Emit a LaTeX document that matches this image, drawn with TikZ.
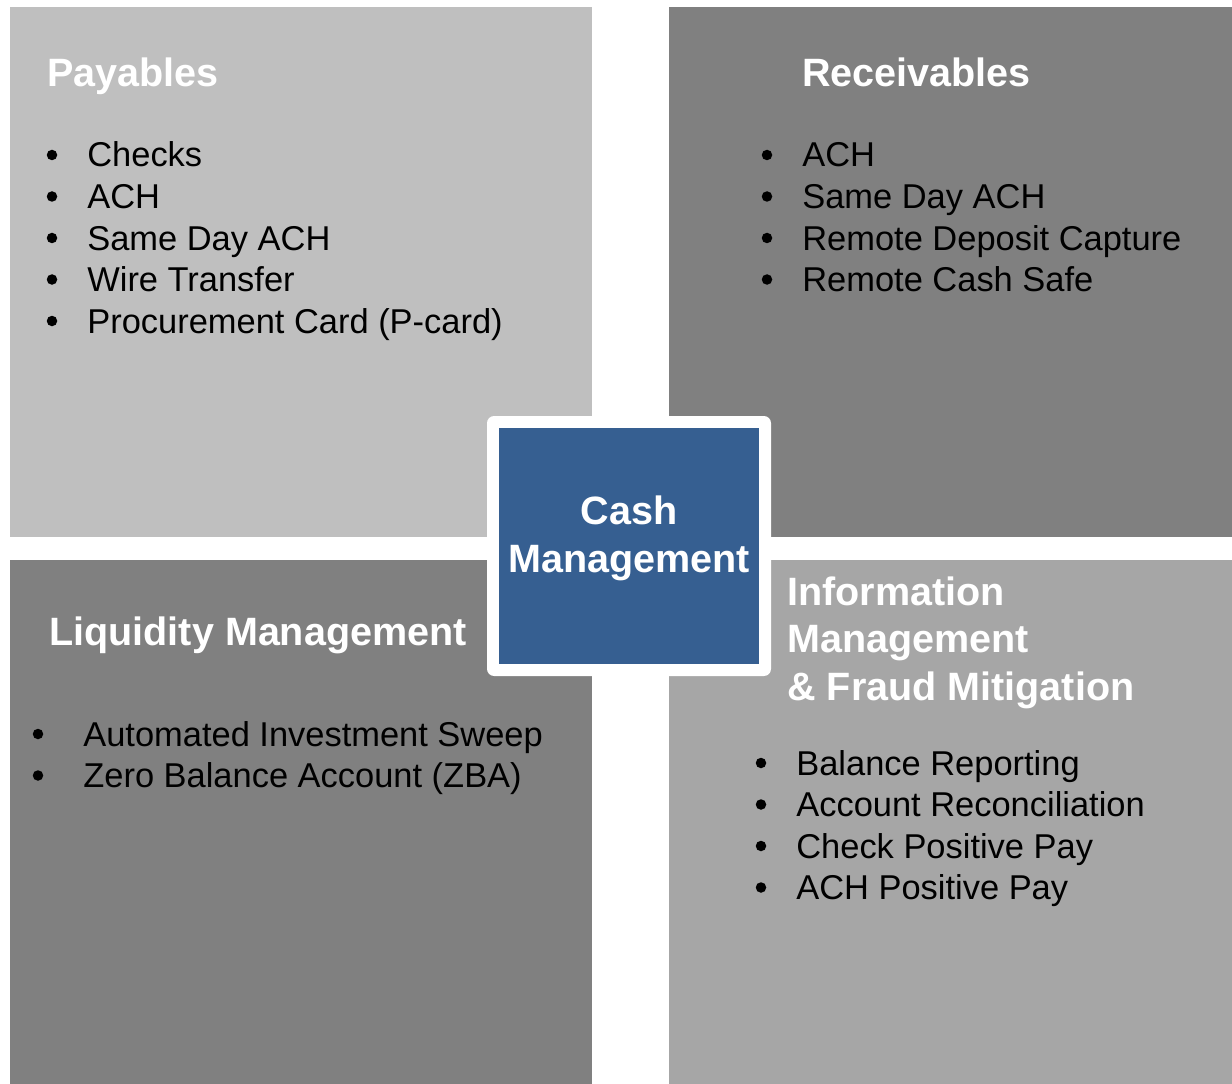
\documentclass[tikz,border=0pt]{standalone}
\usepackage{fontspec}
\setmainfont{Liberation Sans}
\usetikzlibrary{positioning}

\definecolor{paylight}{HTML}{BFBFBF}
\definecolor{darkgray}{HTML}{808080}
\definecolor{infogray}{HTML}{A6A6A6}
\definecolor{cashblue}{HTML}{365F91}

\tikzset{
  heading/.style={text=white, inner sep=0pt, anchor=base west,
    font=\fontsize{22.5}{27.2}\selectfont\bfseries},
  entry/.style={inner sep=0pt, anchor=base west,
    font=\fontsize{19.6}{23.5}\selectfont},
  dot/.style={circle, fill=black, inner sep=0pt, minimum size=2.1mm},
  cashlabel/.style={text=white, inner sep=0pt, align=center,
    font=\fontsize{22.5}{27.2}\selectfont\bfseries}
}

\begin{document}
\begin{tikzpicture}[x=0.2mm, y=-0.2mm]
  \useasboundingbox (0,0) rectangle (1232,1084);

  % four quadrants
  \fill[paylight] (10,7) rectangle (592,537);
  \fill[darkgray] (669,7) rectangle (1232,537);
  \fill[darkgray] (10,560) rectangle (592,1084);
  \fill[infogray] (669,560) rectangle (1232,1084);

  % headings
  \node[heading] (pay) at (47,87) {Payables};
  \node[heading] (rec) at (802,87) {Receivables};
  \node[heading] (liq) at (49,645) {Liquidity Management};
  \node[heading, anchor=north west, align=left] (info) at (787,576)
    {Information\\Management\\\& Fraud Mitigation};

  % bullet lists
  \foreach \txt [count=\i] in {Checks, ACH, Same Day ACH, Wire Transfer, Procurement Card (P-card)} {
    \node[dot] (payb\i) at (52,{113.5+41.5*\i}) {};
    \node[entry] (pay\i) at (87,{125.5+41.5*\i}) {\txt};
  }
  \foreach \txt [count=\i] in {ACH, Same Day ACH, Remote Deposit Capture, Remote Cash Safe} {
    \node[dot] (recb\i) at (767,{113.5+41.5*\i}) {};
    \node[entry] (rec\i) at (802,{125.5+41.5*\i}) {\txt};
  }
  \foreach \txt [count=\i] in {Automated Investment Sweep, Zero Balance Account (ZBA)} {
    \node[dot] (liqb\i) at (38,{692.5+41.5*\i}) {};
    \node[entry] (liq\i) at (83,{704.5+41.5*\i}) {\txt};
  }
  \foreach \txt [count=\i] in {Balance Reporting, Account Reconciliation, Check Positive Pay, ACH Positive Pay} {
    \node[dot] (infob\i) at (761,{721.5+41.5*\i}) {};
    \node[entry] (info\i) at (796,{733.5+41.5*\i}) {\txt};
  }

  % centre box
  \fill[white, rounded corners=4pt] (487,416) rectangle (771,676);
  \fill[cashblue] (499,428) rectangle (759,664);
  \node[cashlabel] (cash) at (629,538) {Cash\\Management};
\end{tikzpicture}
\end{document}
